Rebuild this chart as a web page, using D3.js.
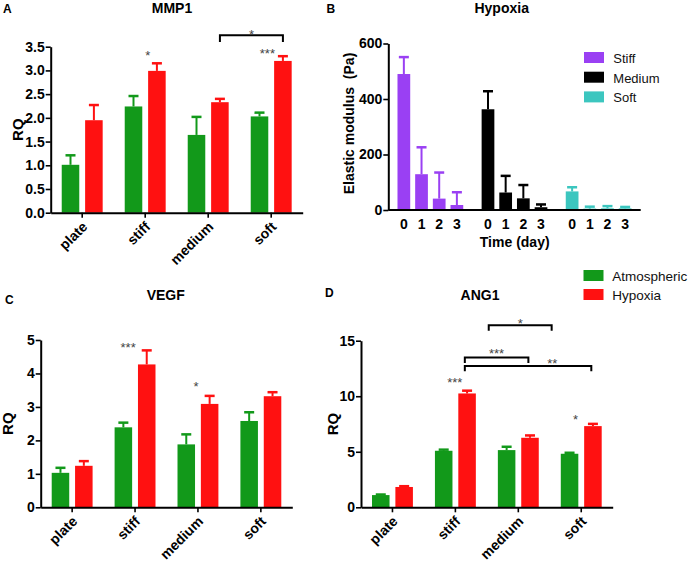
<!DOCTYPE html>
<html><head><meta charset="utf-8">
<script src="https://cdn.jsdelivr.net/npm/d3@7"></script>
<style>
body{margin:0;background:#fff;}
svg{display:block;font-family:"Liberation Sans",Arial,sans-serif;}
</style></head>
<body><svg id="c" width="690" height="561"></svg>
<script>
// ---------- DATA ----------
const categories = ["plate","stiff","medium","soft"];
const seriesNames = ["Atmospheric","Hypoxia"];

// MMP1 (panel A)
const mmp1Atm    = [1.01, 2.24, 1.64, 2.03];
const mmp1AtmErr = [0.20, 0.22, 0.38, 0.08];
const mmp1Hyp    = [1.95, 2.99, 2.33, 3.20];
const mmp1HypErr = [0.32, 0.16, 0.07, 0.10];
const mmp1Ticks  = [0,0.5,1,1.5,2,2.5,3,3.5];

// VEGF (panel C)
const vegfAtm    = [1.03, 2.39, 1.88, 2.58];
const vegfAtmErr = [0.15, 0.14, 0.30, 0.26];
const vegfHyp    = [1.24, 4.27, 3.09, 3.32];
const vegfHypErr = [0.14, 0.42, 0.24, 0.12];
const vegfTicks  = [0,1,2,3,4,5];

// ANG1 (panel D)
const ang1Atm    = [1.10, 5.09, 5.15, 4.82];
const ang1AtmErr = [0.05, 0.10, 0.30, 0.09];
const ang1Hyp    = [1.83, 10.25, 6.26, 7.31];
const ang1HypErr = [0.07, 0.25, 0.21, 0.20];
const ang1Ticks  = [0,5,10,15];

// Hypoxia elastic modulus (panel B)
const stiffnessGroups = ["Stiff","Medium","Soft"];
const days = ["0","1","2","3"];
const stiffModulus    = [490, 129, 41, 18];
const stiffModulusErr = [61, 97, 94, 46];
const mediumModulus    = [363, 63, 42, 10];
const mediumModulusErr = [65, 60, 48, 10];
const softModulus    = [67, 5, 6, 6];
const softModulusErr = [15, 7, 8, 5];
const modulusTicks = [0,200,400,600];

// significance annotations (category, position within band 0..1, y in data units)
const mmp1Stars = [{cat:"stiff", f:0.54, y:3.37, t:"*"}, {cat:"soft", f:0.44, y:3.43, t:"***"}];
const mmp1Brackets = [{from:["medium",0.686], to:["soft",0.686], top:3.74, foot:3.60, t:"*", ty:3.82}];
const vegfStars = [{cat:"stiff", f:0.39, y:4.88, t:"***"}, {cat:"medium", f:0.47, y:3.71, t:"*"}];
const ang1Stars = [{cat:"stiff", f:0.49, y:11.54, t:"***"}, {cat:"soft", f:0.41, y:8.15, t:"*"}];
const ang1Brackets = [
  {from:["medium",0.03], to:["soft",0.03], top:16.4, foot:15.9, t:"*", ty:16.78},
  {from:["stiff",0.65], to:["medium",0.66], top:13.49, foot:13.0, t:"***", ty:14.08},
  {from:["stiff",0.65], to:["soft",0.66], top:12.73, foot:12.26, t:"**", ty:13.25, at:["soft",0.04]}
];

// ---------- STYLE ----------
const GREEN = "#12991a", RED = "#ff1111";
const PURPLE = "#9a40f3", BLACK = "#000000", TEAL = "#3cc6bf";
const svg = d3.select("#c");
const FONT = "'Liberation Sans',Arial,sans-serif";

function styleAxis(g){
  g.select(".domain").attr("stroke","#000").attr("stroke-width",2);
  g.selectAll(".tick line").attr("stroke","#000").attr("stroke-width",1.6);
  g.selectAll(".tick text").attr("fill","#000").style("font-size","14px").style("font-weight","bold").style("font-family",FONT);
}

function errBar(g, cx, y0, y1, color, capW){
  g.append("line").attr("x1",cx).attr("x2",cx).attr("y1",y0).attr("y2",y1)
    .attr("stroke",color).attr("stroke-width",2);
  g.append("line").attr("x1",cx-capW/2).attr("x2",cx+capW/2).attr("y1",y1).attr("y2",y1)
    .attr("stroke",color).attr("stroke-width",2.5);
}

function groupedPanel(o){
  const g = svg.append("g");
  const x = d3.scaleBand().domain(categories).range([o.left,o.right]).padding(0);
  const x1 = d3.scaleBand().domain(seriesNames).range([0,x.bandwidth()]).paddingInner(0.25).paddingOuter(0.471);
  const y = d3.scaleLinear().domain([0,o.max]).range([o.bottom,o.top]);
  const series = [
    {name:"Atmospheric", vals:o.atm, errs:o.atmErr, color:GREEN},
    {name:"Hypoxia", vals:o.hyp, errs:o.hypErr, color:RED}
  ];
  series.forEach(s=>{
    categories.forEach((c,i)=>{
      const bx = x(c)+x1(s.name), bw = x1.bandwidth();
      errBar(g, bx+bw/2, y(s.vals[i]), y(s.vals[i]+s.errs[i]), s.color, 10);
      g.append("rect").attr("x",bx).attr("width",bw).attr("y",y(s.vals[i])).attr("height",y(0)-y(s.vals[i]))
        .attr("fill",s.color);
    });
  });
  const ya = g.append("g").attr("transform",`translate(${o.left},0)`)
    .call(d3.axisLeft(y).tickValues(o.ticks).tickFormat(o.fmt).tickSize(5).tickSizeOuter(0).tickPadding(1));
  styleAxis(ya);
  const xa = g.append("g").attr("transform",`translate(0,${o.bottom})`)
    .call(d3.axisBottom(x).tickSize(5).tickSizeOuter(0));
  styleAxis(xa);
  xa.selectAll(".tick text").attr("text-anchor","end").attr("y",0).attr("dy",0)
    .attr("transform","translate(6,15) rotate(-45)");
  g.append("text").attr("x",(o.titleX)).attr("y",o.titleY).attr("text-anchor","middle")
    .style("font-size","14px").style("font-weight","bold").text(o.title);
  g.append("text").attr("transform",`translate(${o.rqX},${(o.top+o.bottom)/2}) rotate(-90)`)
    .attr("text-anchor","middle").attr("dy","0.35em")
    .style("font-size","15px").style("font-weight","bold").text("RQ");
  g.append("text").attr("x",o.letterX).attr("y",o.letterY)
    .style("font-size","12px").style("font-weight","bold").text(o.letter);
  (o.stars||[]).forEach(s=>{
    g.append("text").attr("x",x(s.cat)+s.f*x.bandwidth()).attr("y",y(s.y)+7.5)
      .attr("text-anchor","middle").attr("fill","#444").style("font-size","13px").text(s.t);
  });
  (o.brackets||[]).forEach(b=>{
    const xa_ = x(b.from[0])+b.from[1]*x.bandwidth();
    const xb_ = x(b.to[0])+b.to[1]*x.bandwidth();
    g.append("path").attr("d",`M${xa_},${y(b.foot)}V${y(b.top)}H${xb_}V${y(b.foot)}`)
      .attr("fill","none").attr("stroke","#000").attr("stroke-width",2);
    const tx = b.at ? x(b.at[0])+b.at[1]*x.bandwidth() : (xa_+xb_)/2;
    g.append("text").attr("x",tx).attr("y",y(b.ty)+7.5)
      .attr("text-anchor","middle").attr("fill","#444").style("font-size","13px").text(b.t);
  });
}

// Panel A
groupedPanel({left:50.7,right:302.7,top:46.7,bottom:212.7,max:3.5,ticks:mmp1Ticks,fmt:d3.format(".1f"),
  atm:mmp1Atm,atmErr:mmp1AtmErr,hyp:mmp1Hyp,hypErr:mmp1HypErr,
  title:"MMP1",titleX:172,titleY:13,rqX:18,letter:"A",letterX:3,letterY:13,
  stars:mmp1Stars,brackets:mmp1Brackets});
// Panel C
groupedPanel({left:40.7,right:292.3,top:340,bottom:507.3,max:5,ticks:vegfTicks,fmt:d3.format("d"),
  atm:vegfAtm,atmErr:vegfAtmErr,hyp:vegfHyp,hypErr:vegfHypErr,
  title:"VEGF",titleX:165.7,titleY:299.5,rqX:8,letter:"C",letterX:5,letterY:304,
  stars:vegfStars});
// Panel D
groupedPanel({left:361,right:612.7,top:340.7,bottom:507.3,max:15,ticks:ang1Ticks,fmt:d3.format("d"),
  atm:ang1Atm,atmErr:ang1AtmErr,hyp:ang1Hyp,hypErr:ang1HypErr,
  title:"ANG1",titleX:480,titleY:299.5,rqX:333,letter:"D",letterX:325,letterY:297,
  stars:ang1Stars,brackets:ang1Brackets});

// Legend for C/D
const legCD = svg.append("g");
[{n:"Atmospheric",c:GREEN},{n:"Hypoxia",c:RED}].forEach((d,i)=>{
  legCD.append("rect").attr("x",583.5).attr("y",270+i*19).attr("width",20).attr("height",11).attr("fill",d.c);
  legCD.append("text").attr("x",612.3).attr("y",280.5+i*19).style("font-size","13.5px").attr("fill","#111").text(d.n);
});

// Panel B
(function(){
  const g = svg.append("g");
  const left=388.3,right=640.7,top=43.5,bottom=210;
  const groups = [
    {name:"Stiff", vals:stiffModulus, errs:stiffModulusErr, color:PURPLE},
    {name:"Medium", vals:mediumModulus, errs:mediumModulusErr, color:BLACK},
    {name:"Soft", vals:softModulus, errs:softModulusErr, color:TEAL}
  ];
  const x0 = d3.scaleBand().domain(stiffnessGroups).range([left,right]).padding(0);
  const x1 = d3.scaleBand().domain(days).range([0,x0.bandwidth()]).paddingInner(0.28).paddingOuter(0.52);
  const y = d3.scaleLinear().domain([0,600]).range([bottom,top]);
  groups.forEach(gr=>{
    days.forEach((d,i)=>{
      const bx = x0(gr.name)+x1(d), bw = x1.bandwidth();
      errBar(g, bx+bw/2, y(gr.vals[i]), y(gr.vals[i]+gr.errs[i]), gr.color, 10);
      g.append("rect").attr("x",bx).attr("width",bw).attr("y",y(gr.vals[i])).attr("height",y(0)-y(gr.vals[i]))
        .attr("fill",gr.color);
      g.append("text").attr("x",bx+bw/2).attr("y",bottom+19.3).attr("text-anchor","middle")
        .style("font-size","14px").style("font-weight","bold").text(d);
    });
  });
  const ya = g.append("g").attr("transform",`translate(${left},0)`)
    .call(d3.axisLeft(y).tickValues(modulusTicks).tickSize(5).tickSizeOuter(0).tickPadding(1));
  styleAxis(ya);
  g.append("line").attr("x1",left).attr("x2",right).attr("y1",bottom).attr("y2",bottom)
    .attr("stroke","#000").attr("stroke-width",2);
  g.append("text").attr("x",514.7).attr("y",246.5).attr("text-anchor","middle")
    .style("font-size","14px").style("font-weight","bold").text("Time (day)");
  g.append("text").attr("transform",`translate(349,123.5) rotate(-90)`).attr("text-anchor","middle").attr("dy","0.35em")
    .style("font-size","14px").style("font-weight","bold").style("white-space","pre").text("Elastic modulus  (Pa)");
  g.append("text").attr("x",501.7).attr("y",13).attr("text-anchor","middle")
    .style("font-size","14px").style("font-weight","bold").text("Hypoxia");
  g.append("text").attr("x",326.5).attr("y",13).style("font-size","12px").style("font-weight","bold").text("B");
  groups.forEach((gr,i)=>{
    g.append("rect").attr("x",584).attr("y",52+i*19.7).attr("width",20).attr("height",11).attr("fill",gr.color);
    g.append("text").attr("x",613.3).attr("y",62.8+i*19.7).style("font-size","13px").attr("fill","#111").text(gr.name);
  });
})();
</script></body></html>
